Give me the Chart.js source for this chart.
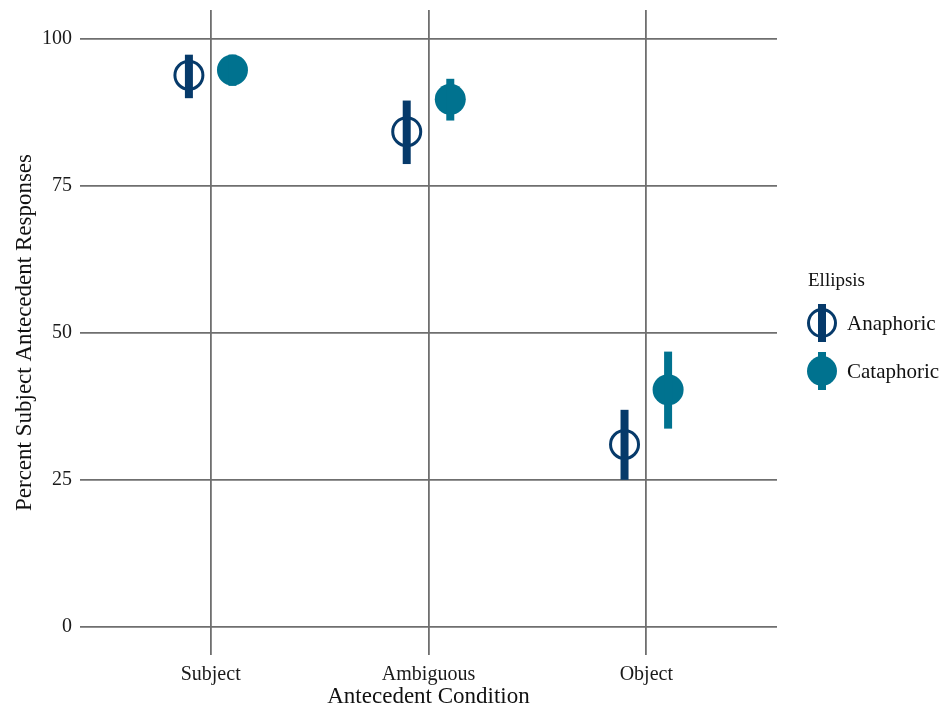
<!DOCTYPE html>
<html>
<head>
<meta charset="utf-8">
<script src="https://cdn.jsdelivr.net/npm/chart.js@4.4.1/dist/chart.umd.min.js"></script>
<style>
  html, body { margin: 0; padding: 0; background: #ffffff; overflow: hidden; }
  #wrap { position: relative; width: 946px; height: 711px; overflow: hidden; }
  #c { position: absolute; left: 0; top: -7px; }
</style>
</head>
<body>
<div id="wrap"><canvas id="c" width="946" height="718"></canvas></div>
<script>
// Antecedent conditions on the x axis
const conditions = ["Subject", "Ambiguous", "Object"];
const yTicks = [0, 25, 50, 75, 100];

// Percent subject-antecedent responses, with interval bounds
const anaphoricMean  = [93.8, 84.2, 31.0];
const anaphoricLow   = [89.9, 78.7, 25.0];
const anaphoricHigh  = [97.3, 89.5, 36.9];

const cataphoricMean = [94.7, 89.7, 40.3];
const cataphoricLow  = [92.0, 86.1, 33.7];
const cataphoricHigh = [97.3, 93.2, 46.8];

const seriesNames = ["Anaphoric", "Cataphoric"];
const colAna = "#063a6a";
const colCat = "#00728f";
const dodge = 0.1;
const FONT = "'Liberation Serif', 'Times New Roman', serif";
const SHIFT = 7; // canvas is raised by this many pixels

function pts(means, lo, hi, off) {
  return means.map((m, i) => ({ x: i + off, y: m, lo: lo[i], hi: hi[i] }));
}

const rangeBars = {
  id: "rangeBars",
  afterDatasetsDraw(chart) {
    const { ctx, scales: { x, y } } = chart;
    ctx.save();
    chart.data.datasets.forEach(ds => {
      ctx.strokeStyle = ds.borderColor;
      ctx.lineWidth = 8;
      ctx.lineCap = "butt";
      ds.data.forEach(p => {
        const px = x.getPixelForValue(p.x);
        ctx.beginPath();
        ctx.moveTo(px, y.getPixelForValue(p.lo));
        ctx.lineTo(px, y.getPixelForValue(p.hi));
        ctx.stroke();
      });
    });
    ctx.restore();
  }
};

const sideLegend = {
  id: "sideLegend",
  afterDraw(chart) {
    const ctx = chart.ctx;
    ctx.save();
    ctx.fillStyle = "#111";
    ctx.font = "19px " + FONT;
    ctx.textBaseline = "alphabetic";
    ctx.textAlign = "left";
    ctx.fillText("Ellipsis", 808, 286 + SHIFT);
    ctx.textBaseline = "middle";
    const rows = [
      { name: seriesNames[0], y: 323 + SHIFT, col: colAna, open: true },
      { name: seriesNames[1], y: 371 + SHIFT, col: colCat, open: false }
    ];
    rows.forEach(r => {
      const cx = 822;
      if (r.open) {
        ctx.beginPath();
        ctx.arc(cx, r.y, 13.5, 0, Math.PI * 2);
        ctx.lineWidth = 3;
        ctx.strokeStyle = r.col;
        ctx.stroke();
      } else {
        ctx.beginPath();
        ctx.arc(cx, r.y, 15, 0, Math.PI * 2);
        ctx.fillStyle = r.col;
        ctx.fill();
      }
      ctx.fillStyle = r.col;
      ctx.fillRect(cx - 4, r.y - 19, 8, 38);
      ctx.fillStyle = "#111";
      ctx.font = "21px " + FONT;
      ctx.fillText(r.name, 847, r.y + 1);
    });
    ctx.restore();
  }
};

new Chart(document.getElementById("c"), {
  type: "scatter",
  data: {
    datasets: [
      {
        label: seriesNames[0],
        data: pts(anaphoricMean, anaphoricLow, anaphoricHigh, -dodge),
        borderColor: colAna,
        backgroundColor: "rgba(255,255,255,0)",
        pointRadius: 14,
        pointBorderWidth: 3,
        pointHoverRadius: 14
      },
      {
        label: seriesNames[1],
        data: pts(cataphoricMean, cataphoricLow, cataphoricHigh, dodge),
        borderColor: colCat,
        backgroundColor: colCat,
        pointRadius: 15.5,
        pointBorderWidth: 0,
        pointHoverRadius: 15.5
      }
    ]
  },
  options: {
    responsive: false,
    animation: false,
    events: [],
    layout: { padding: { top: 3, right: 169, left: 0, bottom: 0 } },
    plugins: { legend: { display: false }, tooltip: { enabled: false } },
    scales: {
      x: {
        type: "linear",
        min: -0.6,
        max: 2.6,
        afterBuildTicks(scale) {
          scale.ticks = conditions.map((_, i) => ({ value: i }));
        },
        afterFit(scale) {
          scale.height = 56;
          scale.paddingLeft = 0;
          scale.paddingRight = 0;
        },
        grid: { color: "#6f6f6f", lineWidth: 1.8, drawTicks: false, drawOnChartArea: true },
        border: { display: false },
        ticks: {
          padding: 8,
          color: "#1a1a1a",
          font: { family: FONT, size: 20 },
          callback: v => conditions[v]
        },
        title: {
          display: true,
          text: "Antecedent Condition",
          color: "#111",
          font: { family: FONT, size: 23 },
          padding: { top: -1, bottom: 0 }
        }
      },
      y: {
        min: -4.8,
        max: 104.9,
        afterBuildTicks(scale) {
          scale.ticks = yTicks.map(v => ({ value: v }));
        },
        afterFit(scale) {
          scale.width = 80;
          scale.paddingTop = 0;
          scale.paddingBottom = 0;
        },
        grid: { color: "#6f6f6f", lineWidth: 1.8, drawTicks: false },
        border: { display: false },
        ticks: {
          padding: 8,
          color: "#1a1a1a",
          font: { family: FONT, size: 20 }
        },
        title: {
          display: true,
          text: "Percent Subject Antecedent Responses",
          color: "#111",
          font: { family: FONT, size: 23 },
          padding: { top: 11, bottom: 0 }
        }
      }
    }
  },
  plugins: [rangeBars, sideLegend]
});
</script>
</body>
</html>
